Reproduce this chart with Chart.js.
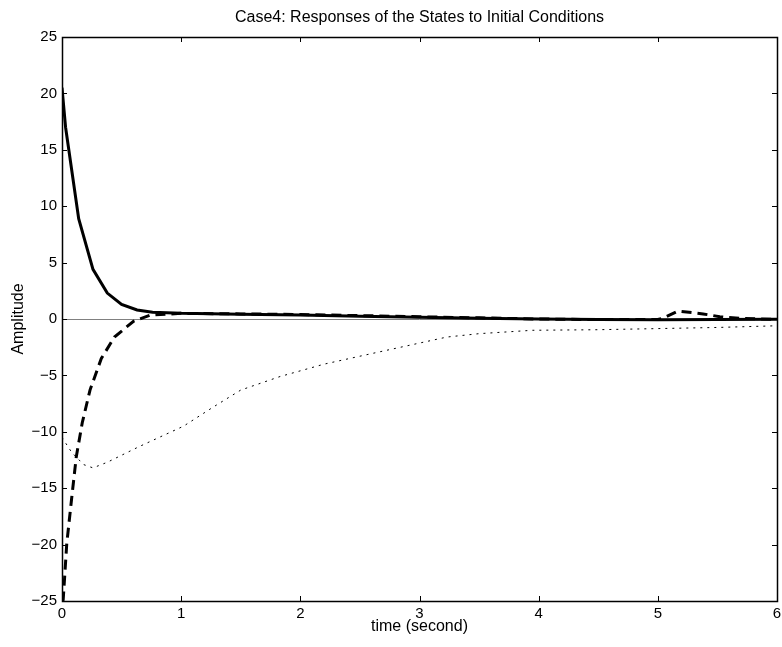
<!DOCTYPE html>
<html>
<head>
<meta charset="utf-8">
<script src="https://cdn.jsdelivr.net/npm/chart.js@4.4.1/dist/chart.umd.min.js"></script>
<style>
  html, body { margin: 0; padding: 0; background: #fff; }
  #wrap { width: 782px; height: 647px; }
</style>
</head>
<body>
<div id="wrap"><canvas id="chart"></canvas></div>
<script>
// state x1 (solid)
const tSolid = [0, 0.03, 0.14, 0.26, 0.38, 0.5, 0.63, 0.76, 1.0, 1.5, 2, 2.5, 3, 3.5, 4, 4.5, 5, 5.5, 6];
const x1 = [20.5, 17.0, 8.9, 4.4, 2.3, 1.3, 0.8, 0.6, 0.5, 0.42, 0.35, 0.25, 0.15, 0.06, 0.0, -0.04, -0.06, -0.05, -0.03];

// state x2 (dashed)
const tDashed = [0, 0.01, 0.04, 0.08, 0.12, 0.17, 0.235, 0.33, 0.44, 0.6, 0.74, 1.0, 1.5, 2, 2.5, 3, 3.5, 4, 4.5, 5.0, 5.05, 5.17, 5.38, 5.52, 5.69, 6];
const x2 = [-25, -24.9, -19.9, -16, -12.2, -9.2, -6.3, -3.5, -1.6, -0.2, 0.35, 0.5, 0.45, 0.4, 0.3, 0.2, 0.1, 0.0, -0.05, -0.05, 0.1, 0.7, 0.45, 0.2, 0.05, -0.03];

// state x3 (dotted)
const tDotted = [0, 0.08, 0.18, 0.26, 0.38, 0.65, 1.02, 1.27, 1.5, 1.83, 2.2, 2.67, 3.23, 3.5, 3.95, 4.5, 5, 5.5, 6];
const x3 = [-10.5, -11.8, -12.9, -13.2, -12.7, -11.3, -9.5, -7.8, -6.3, -5.1, -4.0, -2.9, -1.6, -1.3, -1.0, -0.95, -0.85, -0.75, -0.6];

const xTicks = [0, 1, 2, 3, 4, 5, 6];
const yTicks = [-25, -20, -15, -10, -5, 0, 5, 10, 15, 20, 25];

const FONT = "'Liberation Sans', Arial, Helvetica, sans-serif";

function pts(t, v) {
  return t.map((x, i) => ({ x: x, y: v[i] }));
}

// box around the axes with inward ticks on all four sides
const boxTicks = {
  id: 'boxTicks',
  afterDatasetsDraw(chart) {
    const { ctx, chartArea: a, scales } = chart;
    const len = 5;
    ctx.save();
    ctx.strokeStyle = '#000';
    ctx.lineWidth = 1;
    ctx.beginPath();
    xTicks.forEach(v => {
      const px = Math.round(scales.x.getPixelForValue(v)) + 0.5;
      ctx.moveTo(px, a.bottom); ctx.lineTo(px, a.bottom - len);
      ctx.moveTo(px, a.top); ctx.lineTo(px, a.top + len);
    });
    yTicks.forEach(v => {
      const py = Math.round(scales.y.getPixelForValue(v)) + 0.5;
      ctx.moveTo(a.left, py); ctx.lineTo(a.left + len, py);
      ctx.moveTo(a.right, py); ctx.lineTo(a.right - len, py);
    });
    ctx.stroke();
    ctx.lineWidth = 1.5;
    ctx.strokeRect(Math.round(a.left) + 0.5, Math.round(a.top) + 0.5,
      Math.round(a.right - a.left), Math.round(a.bottom - a.top));
    ctx.restore();
  }
};

new Chart(document.getElementById('chart'), {
  type: 'line',
  data: {
    datasets: [
      {
        data: pts(tSolid, x1),
        borderColor: '#000',
        borderWidth: 3,
        pointRadius: 0,
        tension: 0
      },
      {
        data: pts(tDashed, x2),
        borderColor: '#000',
        borderWidth: 3,
        borderDash: [10, 6],
        pointRadius: 0,
        tension: 0
      },
      {
        data: pts(tDotted, x3),
        borderColor: '#000',
        borderWidth: 1,
        borderDash: [2, 5],
        pointRadius: 0,
        tension: 0
      }
    ]
  },
  options: {
    responsive: true,
    maintainAspectRatio: false,
    animation: false,
    layout: { padding: { left: 0, right: 5, top: 0, bottom: 0 } },
    plugins: {
      legend: { display: false },
      tooltip: { enabled: false },
      title: {
        display: true,
        fullSize: false,
        text: 'Case4: Responses of the States to Initial Conditions',
        color: '#000',
        font: { family: FONT, size: 16, weight: 'normal' },
        padding: { top: 8.4, bottom: 9.4 }
      }
    },
    scales: {
      x: {
        type: 'linear',
        min: 0,
        max: 6,
        afterFit(scale) {
          scale.height = 46;
          scale.paddingLeft = 0;
          scale.paddingRight = 0;
        },
        afterBuildTicks(scale) { scale.ticks = xTicks.map(v => ({ value: v })); },
        grid: { display: false, drawTicks: false },
        border: { display: false },
        ticks: {
          color: '#000',
          padding: 4,
          font: { family: FONT, size: 15 },
          maxRotation: 0
        },
        title: {
          display: true,
          text: 'time (second)',
          color: '#000',
          font: { family: FONT, size: 16 },
          padding: { top: 0, bottom: 10.5 }
        }
      },
      y: {
        min: -25,
        max: 25,
        afterFit(scale) { scale.width = 62; },
        afterBuildTicks(scale) { scale.ticks = yTicks.map(v => ({ value: v })); },
        grid: {
          drawTicks: false,
          lineWidth: 1,
          color: c => (c.tick && c.tick.value === 0 ? '#808080' : 'rgba(0,0,0,0)')
        },
        border: { display: false },
        ticks: {
          color: '#000',
          padding: 5,
          font: { family: FONT, size: 15 },
          callback: v => (v < 0 ? '\u2212' + Math.abs(v) : String(v))
        },
        title: {
          display: true,
          text: 'Amplitude',
          color: '#000',
          font: { family: FONT, size: 16 },
          padding: { top: 8.7, bottom: 0 }
        }
      }
    }
  },
  plugins: [boxTicks]
});
</script>
</body>
</html>
